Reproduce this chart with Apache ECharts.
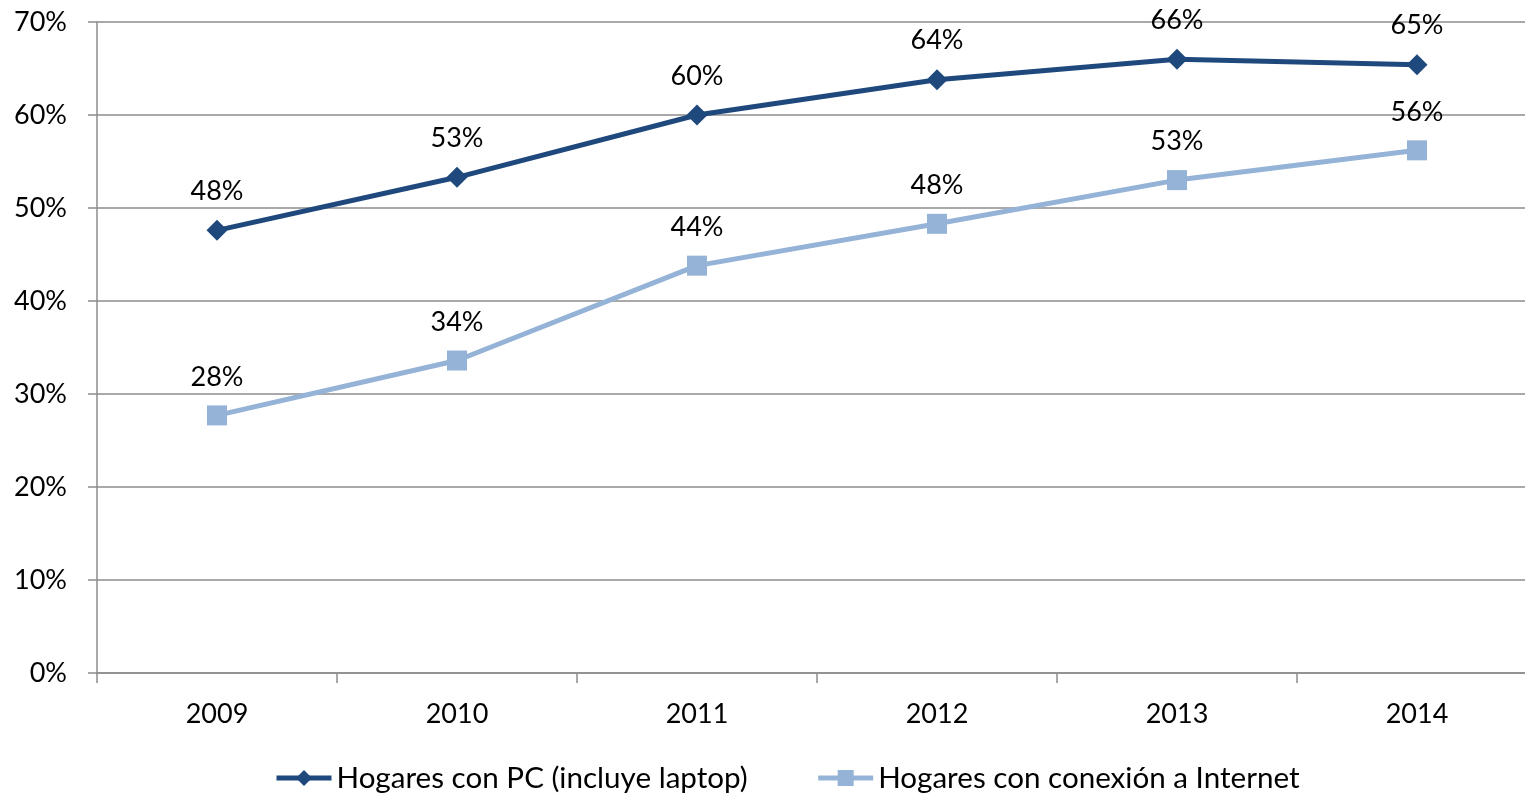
<!DOCTYPE html>
<html><head><meta charset="utf-8">
<script src="https://cdn.jsdelivr.net/npm/echarts@6/dist/echarts.min.js"></script>
<style>html,body{margin:0;padding:0;background:#fff}#c{width:1525px;height:794px}</style>
</head><body><div id="c"></div>
<script>
var categories = ['2009','2010','2011','2012','2013','2014'];
var pcValues = [47.6, 53.3, 60.0, 63.8, 66.0, 65.4];
var internetValues = [27.7, 33.6, 43.8, 48.3, 53.0, 56.2];
var seriesNames = ['Hogares con PC (incluye laptop)', 'Hogares con conexión a Internet'];
var FONT = 'Lato';
var chart = echarts.init(document.getElementById('c'));
function lbl(){return {show:true,position:'top',distance:15,color:'#000',fontFamily:FONT,fontSize:27,
  formatter:function(p){return Math.round(p.value)+'%';}};}
chart.setOption({
  animation:false,
  textStyle:{fontFamily:FONT},
  grid:{left:97,top:22,width:1440,bottom:121,outerBoundsMode:'none',containLabel:false},
  legend:{top:763,left:274,padding:0,itemWidth:55,itemHeight:20,itemGap:68,
    lineStyle:{width:5},
    textStyle:{fontFamily:FONT,fontSize:29.6,color:'#000'},data:seriesNames},
  xAxis:{type:'category',data:categories,boundaryGap:true,
    axisLine:{lineStyle:{color:'#8c8c8c',width:1.5}},
    axisTick:{show:true,length:10,lineStyle:{color:'#8c8c8c',width:1.5}},
    axisLabel:{color:'#000',fontFamily:FONT,fontSize:27,margin:28}},
  yAxis:{type:'value',min:0,max:70,interval:10,
    axisLine:{show:true,lineStyle:{color:'#8c8c8c',width:1.5}},
    axisTick:{show:true,length:9,lineStyle:{color:'#8c8c8c',width:1.5}},
    splitLine:{lineStyle:{color:'#8c8c8c',width:1.5}},
    axisLabel:{color:'#000',fontFamily:FONT,fontSize:27,margin:30,formatter:'{value}%'}},
  series:[
    {name:seriesNames[0],type:'line',data:pcValues,symbol:'diamond',symbolSize:21,
     itemStyle:{color:'#1F497D'},lineStyle:{color:'#1F497D',width:5},label:lbl()},
    {name:seriesNames[1],type:'line',data:internetValues,symbol:'rect',symbolSize:20,
     itemStyle:{color:'#95B3D7'},lineStyle:{color:'#95B3D7',width:5},label:lbl()}
  ]
});
</script></body></html>
